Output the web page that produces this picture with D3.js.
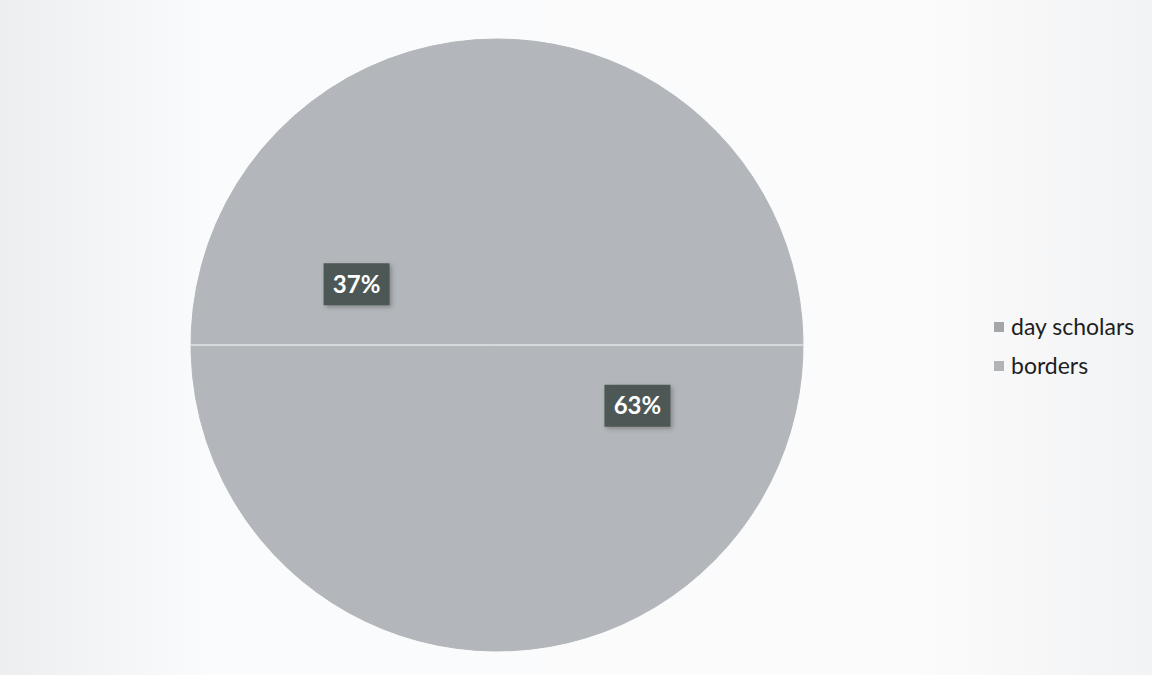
<!DOCTYPE html>
<html>
<head>
<meta charset="utf-8">
<script src="https://cdn.jsdelivr.net/npm/d3@7"></script>
<style>
  body { margin: 0; background: #ffffff; }
  svg { display: block; }
  .legend-text { font-family: Lato, "Open Sans", sans-serif; font-size: 23px; fill: #1e1e1e; }
  .pct-label { font-family: Lato, "Open Sans", sans-serif; font-size: 24px; font-weight: bold; fill: #ffffff; }
</style>
</head>
<body>
<div id="wrapper"></div>
<script>
// data
const categories = ["day scholars", "borders"];
const shares = [63, 37];
const sliceColors = ["#b3b6ba", "#b3b6ba"];

const width = 1152;
const height = 675;
const center = { x: 497, y: 345 };
const radius = 306;

const svg = d3.select("#wrapper")
  .append("svg")
  .attr("width", width)
  .attr("height", height);

// faint scanned-paper background
const defs = svg.append("defs");
const bgGrad = defs.append("linearGradient").attr("id", "bg-grad");
bgGrad.append("stop").attr("offset", "0%").attr("stop-color", "#eceef0");
bgGrad.append("stop").attr("offset", "18%").attr("stop-color", "#fafbfc");
bgGrad.append("stop").attr("offset", "80%").attr("stop-color", "#fbfbfc");
bgGrad.append("stop").attr("offset", "100%").attr("stop-color", "#f2f3f4");
svg.append("rect")
  .attr("x", 0).attr("y", 0)
  .attr("width", width).attr("height", height)
  .attr("fill", "url(#bg-grad)");

const shadow = defs.append("filter").attr("id", "box-shadow")
  .attr("x", "-20%").attr("y", "-20%").attr("width", "150%").attr("height", "160%");
shadow.append("feDropShadow")
  .attr("dx", 2).attr("dy", 2).attr("stdDeviation", 2)
  .attr("flood-color", "#555").attr("flood-opacity", 0.5);

const data = categories.map((c, i) => ({ category: c, value: shares[i] }));

const pie = d3.pie().sort(null).value((d) => d.value);
const arcs = pie(data);

const arc = d3.arc().innerRadius(0).outerRadius(radius);
const labelArc = d3.arc().innerRadius(radius * 0.5).outerRadius(radius * 0.5);

const colorScale = d3.scaleOrdinal().domain(categories).range(sliceColors);

const bounds = svg.append("g")
  .attr("transform", `translate(${center.x}, ${center.y})`);

bounds.selectAll("path.slice")
  .data(arcs)
  .join("path")
  .attr("class", "slice")
  .attr("d", arc)
  .attr("fill", (d) => colorScale(d.data.category))
  .attr("stroke", (d) => colorScale(d.data.category))
  .attr("stroke-width", 1);

// scan artifact line across the middle
svg.append("line")
  .attr("x1", center.x - radius).attr("x2", center.x + radius)
  .attr("y1", center.y).attr("y2", center.y)
  .attr("stroke", "#d6d8db").attr("stroke-width", 2);

// percentage labels in dark boxes
const labelGroup = bounds.append("g");
arcs.forEach((d) => {
  const [lx, ly] = labelArc.centroid(d);
  const g = labelGroup.append("g").attr("transform", `translate(${lx}, ${ly})`);
  g.append("rect")
    .attr("x", -33).attr("y", -21)
    .attr("width", 66).attr("height", 42)
    .attr("fill", "#4e5956")
    .attr("filter", "url(#box-shadow)");
  g.append("text")
    .attr("class", "pct-label")
    .attr("text-anchor", "middle")
    .attr("dy", "0.36em")
    .text(`${d.data.value}%`);
});

// legend
const legend = svg.append("g").attr("transform", "translate(994, 327)");
categories.forEach((c, i) => {
  const row = legend.append("g").attr("transform", `translate(0, ${i * 39})`);
  row.append("rect")
    .attr("x", 0).attr("y", -5)
    .attr("width", 10).attr("height", 10)
    .attr("fill", i === 0 ? "#a4a7aa" : "#b2b5b8");
  row.append("text")
    .attr("class", "legend-text")
    .attr("x", 17)
    .attr("dy", "0.35em")
    .text(c);
});
</script>
</body>
</html>
